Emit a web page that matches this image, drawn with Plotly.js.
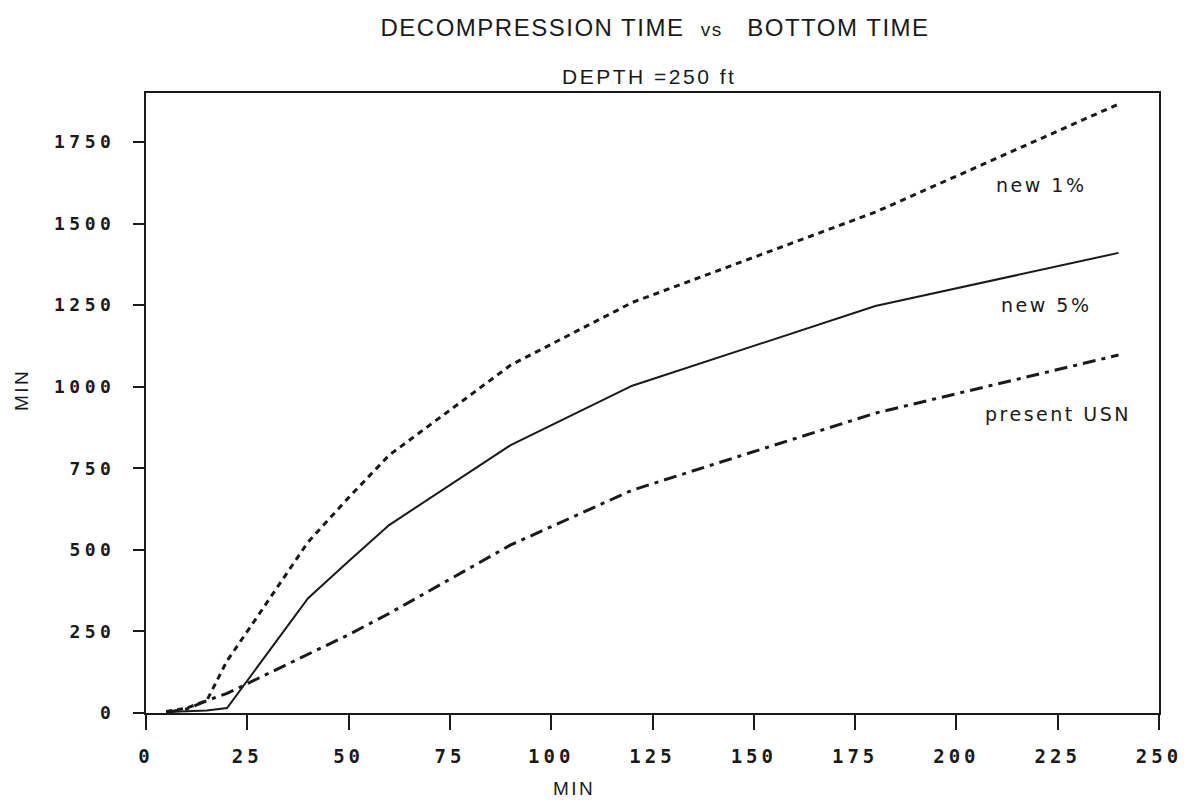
<!DOCTYPE html>
<html>
<head>
<meta charset="utf-8">
<script src="https://cdn.plot.ly/plotly-3.0.1.min.js"></script>
<style>
  body { margin: 0; background: #fff; }
  #chart { width: 1191px; height: 804px; }
  .xtick text { letter-spacing: 4px; }
  .ytick text { letter-spacing: 4.5px; }
  .gtitle { letter-spacing: 1.5px; }
  .annotation-text { letter-spacing: 2.5px; }
</style>
</head>
<body>
<div id="chart"></div>
<script>
// Bottom time (min)
const bottomTime = [5, 10, 15, 20, 25, 30, 40, 50, 60, 90, 120, 180, 240];
// Decompression time (min)
const new1 = [5, 15, 38, 160, 250, 340, 524, 660, 790, 1066, 1258, 1535, 1866];
const new5 = [3, 5, 8, 15, 100, 185, 352, 465, 576, 821, 1003, 1247, 1410];
const presentUSN = [2, 12, 38, 60, 90, 120, 180, 240, 305, 515, 683, 919, 1097];

const seriesNames = ["new 1%", "new 5%", "present USN"];
const xTicks = [0, 25, 50, 75, 100, 125, 150, 175, 200, 225, 250];
const yTicks = [0, 250, 500, 750, 1000, 1250, 1500, 1750];

const ink = "#1a1a1a";
const traces = [
  { x: bottomTime, y: new1, name: seriesNames[0], mode: "lines",
    line: { color: ink, width: 3, dash: "6px,5px" } },
  { x: bottomTime, y: new5, name: seriesNames[1], mode: "lines",
    line: { color: ink, width: 2 } },
  { x: bottomTime, y: presentUSN, name: seriesNames[2], mode: "lines",
    line: { color: ink, width: 3, dash: "13px,6px,4px,6px" } }
];

const sans = "Liberation Sans, Arial, sans-serif";
const labelFont = { family: "DejaVu Sans, sans-serif", size: 19, color: ink };

const layout = {
  width: 1191, height: 804,
  paper_bgcolor: "#fff", plot_bgcolor: "#fff",
  margin: { l: 146, r: 32, t: 93, b: 91 },
  showlegend: false,
  title: { text: "DECOMPRESSION TIME &nbsp;<span style='font-size:19px'>vs</span>&nbsp;  BOTTOM TIME",
           font: { family: sans, size: 24, color: ink },
           x: 0.55, xanchor: "center", y: 0.966, yanchor: "middle" },
  xaxis: {
    range: [0, 250], tickvals: xTicks, ticks: "outside", ticklen: 15, tickwidth: 2,
    tickcolor: ink, showline: true, linewidth: 2, linecolor: ink, mirror: true,
    showgrid: false, zeroline: false,
    tickfont: { family: "DejaVu Sans Mono, monospace", size: 19, color: ink, weight: "bold" },
    ticklabelstandoff: 10
  },
  yaxis: {
    range: [0, 1900], tickvals: yTicks, ticks: "outside", ticklen: 11, tickwidth: 2,
    tickcolor: ink, showline: true, linewidth: 2, linecolor: ink, mirror: true,
    showgrid: false, zeroline: false,
    tickfont: { family: "DejaVu Sans Mono, monospace", size: 18, color: ink, weight: "bold" },
    ticklabelstandoff: 14
  },
  annotations: [
    { text: "DEPTH =250 ft", xref: "paper", yref: "paper", x: 0.497, y: 1.0, yshift: 30,
      showarrow: false, font: { family: sans, size: 21, color: ink } },
    { text: "MIN", xref: "paper", yref: "paper", x: 0.5, xshift: -79, y: 0, yshift: -88,
      showarrow: false, font: { family: sans, size: 19, color: ink } },
    { text: "MIN", xref: "paper", yref: "paper", x: 0, xshift: -137, y: 0.52,
      textangle: -90, showarrow: false, font: { family: sans, size: 19, color: ink } },
    { text: seriesNames[0], x: 221, y: 1618, showarrow: false, font: labelFont },
    { text: seriesNames[1], x: 222, y: 1250, showarrow: false, font: labelFont },
    { text: seriesNames[2], x: 225, y: 916, showarrow: false, font: labelFont }
  ]
};

Plotly.newPlot("chart", traces, layout, { staticPlot: true, displayModeBar: false });
</script>
</body>
</html>
